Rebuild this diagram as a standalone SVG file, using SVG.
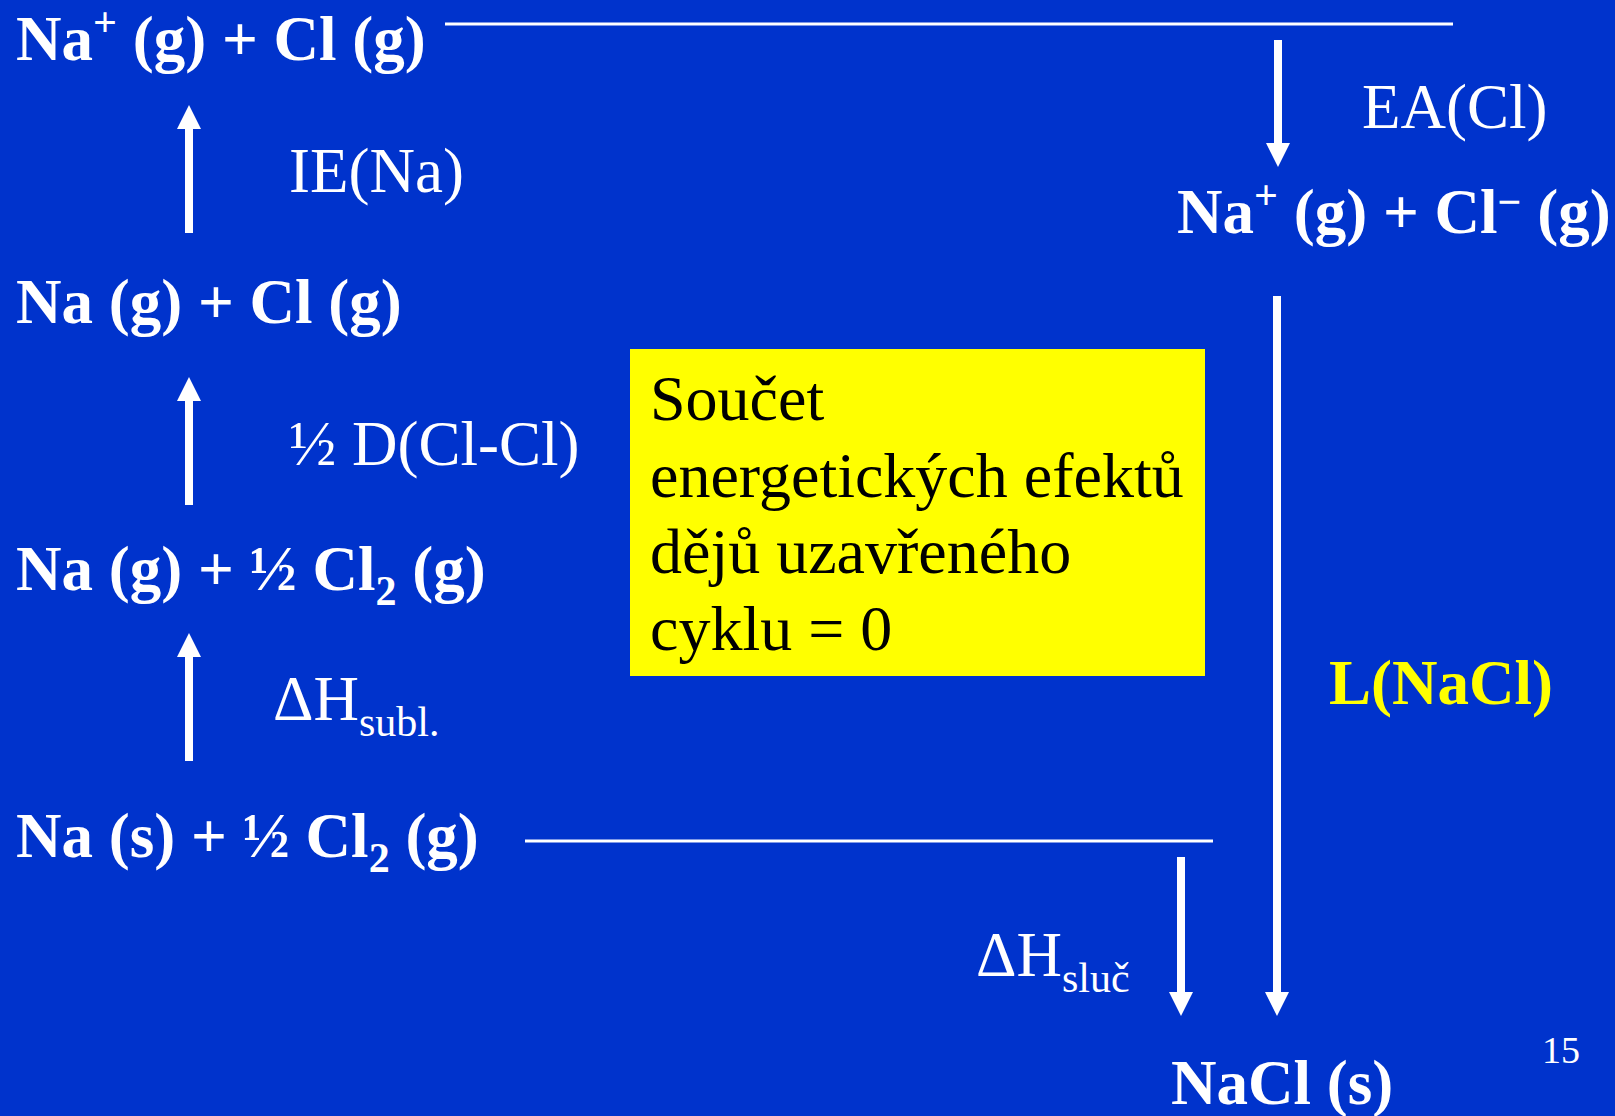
<svg xmlns="http://www.w3.org/2000/svg" width="1615" height="1116" viewBox="0 0 1615 1116">
<defs>
<style>
.b{font-family:"Liberation Serif","Times New Roman",serif;font-weight:bold;font-size:63px;fill:#fff}
.r{font-family:"Liberation Serif","Times New Roman",serif;font-size:63px;fill:#fff}
.k{font-family:"Liberation Serif","Times New Roman",serif;font-size:64px;fill:#000}
.pg{font-family:"Liberation Serif","Times New Roman",serif;font-size:38px;fill:#fff}
.arrow{fill:#fff;stroke:none}
.lvl{stroke:#fff;stroke-width:3;fill:none}
</style>
</defs>
<rect x="0" y="0" width="1615" height="1116" fill="#0033CC"/>

<g id="connectors">
<line class="lvl" x1="445" y1="24" x2="1453" y2="24"/>
<line class="lvl" x1="525" y1="841" x2="1213" y2="841"/>
<path class="arrow" d="M185,233 H193 V129 H201 L189,105 L177,129 H185 Z"/>
<path class="arrow" d="M185,505 H193 V401 H201 L189,377 L177,401 H185 Z"/>
<path class="arrow" d="M185,761 H193 V657 H201 L189,633 L177,657 H185 Z"/>
<path class="arrow" d="M1274,40 H1282 V143 H1290 L1278,167 L1266,143 H1274 Z"/>
<path class="arrow" d="M1273,296 H1281 V992 H1289 L1277,1016 L1265,992 H1273 Z"/>
<path class="arrow" d="M1177,857 H1185 V992 H1193 L1181,1016 L1169,992 H1177 Z"/>
</g>

<g id="node-top">
<text class="b" x="16" y="60">Na<tspan font-size="42" dy="-24">+</tspan><tspan dy="24"> (g) + Cl (g)</tspan></text>
</g>
<g id="label-ie">
<text class="r" x="289" y="192">IE(Na)</text>
</g>
<g id="node-na-g-cl-g">
<text class="b" x="16" y="323">Na (g) + Cl (g)</text>
</g>
<g id="label-d">
<text class="r" x="289" y="465">½ D(Cl-Cl)</text>
</g>
<g id="node-na-g-cl2">
<text class="b" x="16" y="590">Na (g) + ½ Cl<tspan font-size="42" dy="15">2</tspan><tspan dy="-15"> (g)</tspan></text>
</g>
<g id="label-subl">
<text class="r" x="273" y="720">ΔH<tspan font-size="42" dy="16">subl.</tspan></text>
</g>
<g id="node-na-s-cl2">
<text class="b" x="16" y="857">Na (s) + ½ Cl<tspan font-size="42" dy="15">2</tspan><tspan dy="-15"> (g)</tspan></text>
</g>
<g id="label-ea">
<text class="r" x="1362" y="128">EA(Cl)</text>
</g>
<g id="node-ions">
<text class="b" x="1177" y="233">Na<tspan font-size="42" dy="-24">+</tspan><tspan dy="24"> (g) + Cl</tspan><tspan font-size="42" dy="-17">−</tspan><tspan dy="17"> (g)</tspan></text>
</g>
<g id="label-l">
<text class="b" x="1329" y="704" style="fill:#FFFF00">L(NaCl)</text>
</g>
<g id="label-sluc">
<text class="r" x="976" y="976">ΔH<tspan font-size="42" dy="16">sluč</tspan></text>
</g>
<g id="node-nacl">
<text class="b" x="1171" y="1104">NaCl (s)</text>
</g>
<g id="note-box">
<rect x="630" y="349" width="575" height="327" fill="#FFFF00"/>
<text class="k" x="650" y="420">Součet</text>
<text class="k" x="650" y="497">energetických efektů</text>
<text class="k" x="650" y="573">dějů uzavřeného</text>
<text class="k" x="650" y="650">cyklu = 0</text>
</g>
<g id="page-number">
<text class="pg" x="1542" y="1063">15</text>
</g>
</svg>
